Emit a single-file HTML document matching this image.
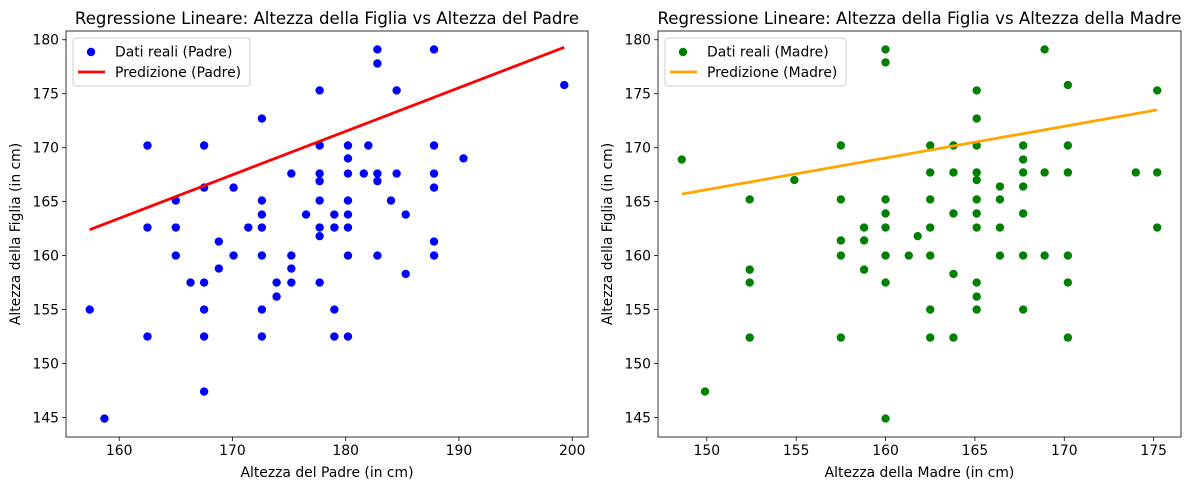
<!DOCTYPE html>
<html><head><meta charset="utf-8"><style>
body{margin:0;background:#fff;}
svg text{font-family:"DejaVu Sans","Liberation Sans",sans-serif;fill:#000;}
</style></head><body>
<svg id="fig" width="1191" height="490" xmlns="http://www.w3.org/2000/svg"></svg>
<script>
const padreX=[157.4,158.7,162.5,162.5,162.5,165,165,165,167.5,167.5,167.5,167.5,167.5,167.5,166.3,168.8,168.8,170.1,170.1,171.4,172.6,172.6,172.6,172.6,172.6,172.6,172.6,173.9,173.9,175.2,175.2,175.2,175.2,176.5,177.7,177.7,177.7,177.7,177.7,177.7,177.7,177.7,179,179,179,179,180.2,180.2,180.2,180.2,180.2,180.2,180.2,180.2,181.6,182,182.8,182.8,182.8,182.8,182.8,184,184.5,184.5,185.3,185.3,187.8,187.8,187.8,187.8,187.8,187.8,190.4,199.3];
const padreY=[155,144.9,170.2,162.6,152.5,165.1,162.6,160,170.2,166.3,157.5,155,152.5,147.4,157.5,161.3,158.8,166.3,160,162.6,172.7,165.1,163.8,162.6,160,155,152.5,157.5,156.2,167.6,160,158.8,157.5,163.8,175.3,170.2,167.6,166.9,165.1,162.6,161.8,157.5,163.8,162.6,155,152.5,170.2,169,167.6,165.1,163.8,162.6,160,152.5,167.6,170.2,179.1,177.8,167.6,166.9,160,165.1,175.3,167.6,163.8,158.3,179.1,170.2,167.6,166.3,161.3,160,169,175.8];
const padreLine=[[157.4,162.4],[199.3,179.3]];
const madreX=[148.6,149.9,152.4,152.4,152.4,152.4,154.9,157.5,157.5,157.5,157.5,157.5,158.8,158.8,158.8,160,160,160,160,160,160,160,160,161.3,161.8,162.5,162.5,162.5,162.5,162.5,162.5,162.5,163.8,163.8,163.8,163.8,163.8,165.1,165.1,165.1,165.1,165.1,165.1,165.1,165.1,165.1,165.1,165.1,166.4,166.4,166.4,166.4,167.7,167.7,167.7,167.7,167.7,167.7,167.7,168.9,168.9,168.9,170.2,170.2,170.2,170.2,170.2,170.2,174,175.2,175.2,175.2];
const madreY=[168.9,147.4,165.2,158.7,157.5,152.4,167,170.2,165.2,161.4,160,152.4,162.6,161.4,158.7,179.1,177.9,165.2,163.9,162.6,160,157.5,144.9,160,161.8,170.2,167.7,165.2,162.6,160,155,152.4,170.2,167.7,163.9,158.3,152.4,175.3,172.7,170.2,167.7,167,165.2,163.9,162.6,157.5,156.2,155,166.4,165.2,162.6,160,170.2,168.9,167.7,166.4,163.9,160,155,179.1,167.7,160,175.8,170.2,167.7,160,157.5,152.4,167.7,175.3,167.7,162.6];
const madreLine=[[148.6,165.7],[175.2,173.5]];
const padreTicks=[160,170,180,190,200];
const madreTicks=[150,155,160,165,170,175];
const yTicks=[145,150,155,160,165,170,175,180];

const NS="http://www.w3.org/2000/svg";
const svg=document.getElementById('fig');
function mk(tag,attrs,parent){const e=document.createElementNS(NS,tag);for(const k in attrs)e.setAttribute(k,attrs[k]);(parent||svg).appendChild(e);return e;}
function ext(a){const mn=Math.min(...a),mx=Math.max(...a),m=(mx-mn)*0.05;return [mn-m,mx+m];}
const FS=13.9;
function panel(cfg){
  const L=cfg.x0,R=cfg.x1,T=31,B=437;
  const g=mk('g',{});
  
  
  const xd=ext(cfg.xs),yd=ext(cfg.ys);
  const sx=v=>L+(v-xd[0])/(xd[1]-xd[0])*(R-L);
  const sy=v=>B-(v-yd[0])/(yd[1]-yd[0])*(B-T);
  cfg.xt.forEach(t=>{
    const l=mk('line',{x1:sx(t),x2:sx(t),y1:B,y2:B+4,stroke:'#000','stroke-width':0.8},g);
    
    const tx=mk('text',{x:sx(t),y:B+18,'font-size':FS,'text-anchor':'middle'},g);tx.textContent=t;
    
  });
  yTicks.forEach(t=>{
    const l=mk('line',{x1:L-4,x2:L,y1:sy(t),y2:sy(t),stroke:'#000','stroke-width':0.8},g);
    
    const tx=mk('text',{x:L-7,y:sy(t)+5,'font-size':FS,'text-anchor':'end'},g);tx.textContent=t;
    
  });
  cfg.xs.forEach((v,i)=>{
    const c=mk('circle',{cx:sx(v),cy:sy(cfg.ys[i]),r:4.2,fill:cfg.pc},g);
    
  });
  const ln=mk('line',{x1:sx(cfg.line[0][0]),y1:sy(cfg.line[0][1]),x2:sx(cfg.line[1][0]),y2:sy(cfg.line[1][1]),stroke:cfg.lc,'stroke-width':2.8},g);
  
  const fr=mk('rect',{x:L,y:T,width:R-L,height:B-T,fill:'none',stroke:'#000','stroke-width':0.8},g);
  
  const ti=mk('text',{x:(L+R)/2,y:24,'font-size':16.6,'text-anchor':'middle'},g);ti.textContent=cfg.title;
  
  const xl=mk('text',{x:(L+R)/2,y:477,'font-size':FS,'text-anchor':'middle'},g);xl.textContent=cfg.xlabel;
  
  const yl=mk('text',{x:0,y:0,'font-size':FS,'text-anchor':'middle',transform:`translate(${cfg.ylx},${(T+B)/2}) rotate(-90)`},g);yl.textContent='Altezza della Figlia (in cm)';
  
  const lg=mk('g',{},g);
  
  mk('rect',{x:L+7,y:38,width:cfg.lw,height:48,rx:3,fill:'#fff','fill-opacity':0.8,stroke:'#ccc','stroke-width':1},lg);
  const m=mk('circle',{cx:L+25,cy:52,r:4.2,fill:cfg.pc},lg);
  
  const t1=mk('text',{x:L+49,y:56.5,'font-size':FS},lg);t1.textContent=cfg.l1;
  
  mk('line',{x1:L+12,x2:L+39,y1:72,y2:72,stroke:cfg.lc,'stroke-width':2.8},lg);
  const t2=mk('text',{x:L+49,y:77,'font-size':FS},lg);t2.textContent=cfg.l2;
  
}
panel({name:'padre-chart',x0:66,x1:588,xs:padreX,ys:padreY,line:padreLine,xt:padreTicks,pc:'#0000ff',lc:'#ff0000',
  title:'Regressione Lineare: Altezza della Figlia vs Altezza del Padre',xlabel:'Altezza del Padre (in cm)',ylx:20,
  l1:'Dati reali (Padre)',l2:'Predizione (Padre)',lw:177});
panel({name:'madre-chart',x0:658,x1:1181,xs:madreX,ys:madreY,line:madreLine,xt:madreTicks,pc:'#008000',lc:'#ffa500',
  title:'Regressione Lineare: Altezza della Figlia vs Altezza della Madre',xlabel:'Altezza della Madre (in cm)',ylx:612,
  l1:'Dati reali (Madre)',l2:'Predizione (Madre)',lw:181});
</script>
</body></html>
